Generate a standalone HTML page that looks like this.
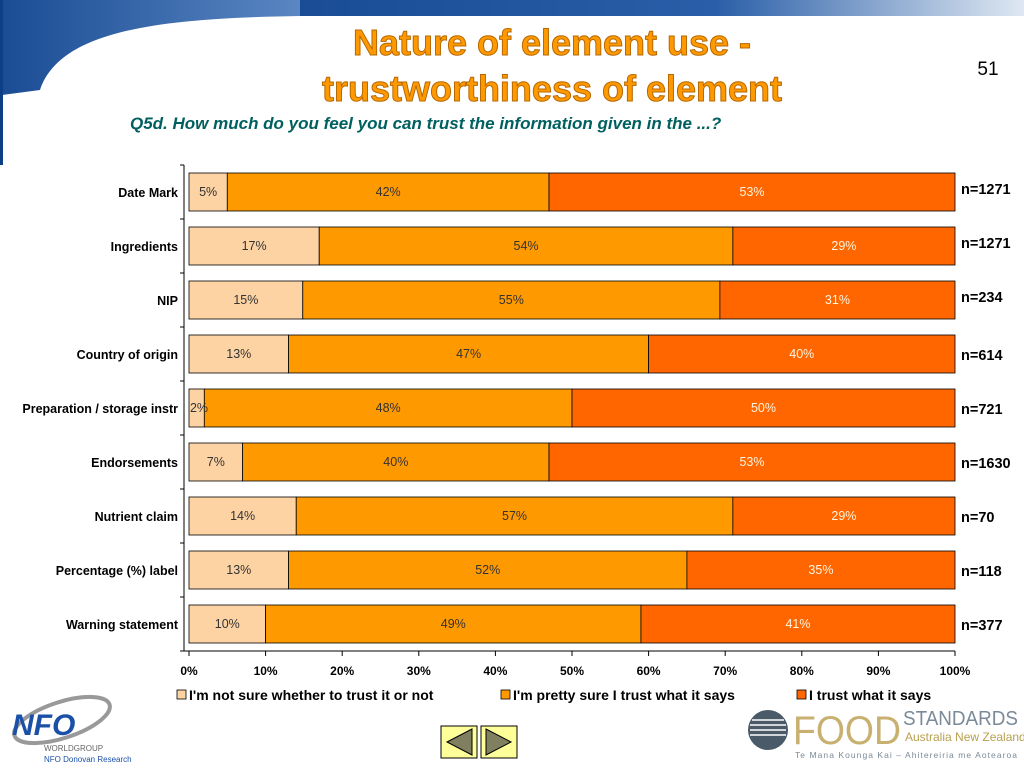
<!DOCTYPE html>
<html><head><meta charset="utf-8"><style>
body{margin:0;width:1024px;height:768px;background:#fff;overflow:hidden;font-family:"Liberation Sans",sans-serif;position:relative}
.abs{position:absolute}
</style></head><body>
<svg class="abs" style="left:0;top:0" width="1024" height="768">
<defs>
<linearGradient id="topg" x1="0" x2="1" y1="0" y2="0"><stop offset="0" stop-color="#0c3f86"/><stop offset="0.7" stop-color="#2a5fa8"/><stop offset="1" stop-color="#dfe8f2"/></linearGradient>
<linearGradient id="swg" x1="0" x2="1"><stop offset="0" stop-color="#1a4c94"/><stop offset="1" stop-color="#5a86c2"/></linearGradient>
</defs>
<g>
<rect x="0" y="0" width="1024" height="16" fill="url(#topg)"/>
<path d="M0,0 L300,0 L300,16 C160,18 60,30 40,90 L2,95 L0,160 Z" fill="url(#swg)"/>
<rect x="0" y="0" width="3" height="165" fill="#0c3f86"/>
</g>
<text x="552" y="55" text-anchor="middle" font-size="36" font-weight="bold" fill="#ff9900" stroke="#b86800" stroke-width="1">Nature of element use -</text>
<text x="552" y="101" text-anchor="middle" font-size="36" font-weight="bold" fill="#ff9900" stroke="#b86800" stroke-width="1">trustworthiness of element</text>
<text x="988" y="75" text-anchor="middle" font-size="19" fill="#000">51</text>
<text x="130" y="129" font-size="17" font-weight="bold" font-style="italic" fill="#006060">Q5d. How much do you feel you can trust the information given in the ...?</text>
<g id="chart"></g>
<g>
<ellipse cx="62" cy="720" rx="50" ry="18" fill="none" stroke="#999" stroke-width="4" transform="rotate(-18 62 720)"/>
<text x="12" y="735" font-size="30" font-weight="bold" font-style="italic" fill="#1a50a8">NFO</text>
<text x="44" y="751" font-size="8" fill="#666">WORLDGROUP</text>
<text x="44" y="762" font-size="8" fill="#1a50a8">NFO Donovan Research</text>
</g>
<g>
<rect x="441" y="726" width="36" height="32" fill="#ffff99" stroke="#000"/>
<polygon points="447,742 472,729 472,755" fill="#808060" stroke="#000"/>
</g>
<g>
<rect x="481" y="726" width="36" height="32" fill="#ffff99" stroke="#000"/>
<polygon points="511,742 486,729 486,755" fill="#808060" stroke="#000"/>
</g>
<g>
<circle cx="768" cy="730" r="20" fill="#4a5a68"/>
<g stroke="#fff" stroke-width="1.5"><line x1="752" y1="720" x2="784" y2="720"/><line x1="750" y1="725" x2="786" y2="725"/><line x1="750" y1="730" x2="786" y2="730"/><line x1="750" y1="735" x2="786" y2="735"/></g>
<text x="793" y="744" font-size="40" fill="#c8b070" textLength="108" lengthAdjust="spacingAndGlyphs">FOOD</text>
<text x="903" y="725" font-size="20" fill="#7a8a98" textLength="115" lengthAdjust="spacingAndGlyphs">STANDARDS</text>
<text x="905" y="741" font-size="12" fill="#b8a050">Australia New Zealand</text>
<text x="795" y="758" font-size="8.5" fill="#7a8a98" textLength="222">Te Mana Kounga Kai – Ahitereiria me Aotearoa</text>
</g>
</svg>
<script>
const categories=["Date Mark","Ingredients","NIP","Country of origin","Preparation / storage instr","Endorsements","Nutrient claim","Percentage (%) label","Warning statement"];
const notSure=[5,17,15,13,2,7,14,13,10];
const prettySure=[42,54,55,47,48,40,57,52,49];
const trust=[53,29,31,40,50,53,29,35,41];
const nLabels=["n=1271","n=1271","n=234","n=614","n=721","n=1630","n=70","n=118","n=377"];
const ticks=[0,10,20,30,40,50,60,70,80,90,100];
const seriesNames=["I'm not sure whether to trust it or not","I'm pretty sure I trust what it says","I trust what it says"];
const colors=["#fdd3a3","#ff9900","#ff6600"];
const NS="http://www.w3.org/2000/svg";
const g=document.getElementById('chart');
const X0=189,X1=955,Y0=165,ROW=54,BH=38;
const x=v=>X0+(X1-X0)*v/100;
const yc=i=>Y0+27+i*ROW;
function el(t,a,txt){const e=document.createElementNS(NS,t);for(const k in a)e.setAttribute(k,a[k]);if(txt!==undefined)e.textContent=txt;g.appendChild(e);return e;}
let ax=el('line',{x1:184,y1:Y0,x2:184,y2:Y0+ROW*9,stroke:'#000'});


for(let i=0;i<=9;i++){let t=el('line',{x1:180,y1:Y0+i*ROW,x2:184,y2:Y0+i*ROW,stroke:'#000'});

}
let xa=el('line',{x1:184,y1:651,x2:X1,y2:651,stroke:'#000'});


ticks.forEach(t=>{let l=el('line',{x1:x(t),y1:651,x2:x(t),y2:656,stroke:'#000'});


let tx=el('text',{x:x(t),y:675,'text-anchor':'middle','font-size':12,'font-weight':'bold'},t+'%');

});
const series=[notSure,prettySure,trust];
categories.forEach((c,i)=>{
 let cl=el('text',{x:178,y:yc(i)+5,'text-anchor':'end','font-size':12.5,'font-weight':'bold'},c);
 
 
 const total=series.reduce((s,a)=>s+a[i],0);
 let acc=0;const labs=[];
 series.forEach((s,k)=>{
  const v=s[i]*100/total;
  let r=el('rect',{x:x(acc),y:yc(i)-BH/2,width:x(acc+v)-x(acc),height:BH,fill:colors[k],stroke:'#000','stroke-width':0.8});
  
  
  labs.push([k,s[i],acc,v]);
  acc+=v;
 });
 labs.forEach(([k,raw,a,v])=>{
  let lx=raw<4?x(a)+10:x(a+v/2);
  let lt=el('text',{x:lx,y:yc(i)+4,'text-anchor':'middle','font-size':12.5,fill:k==2?'#fff5e0':'#333'},raw+'%');
  
  
 });
 let nl=el('text',{x:961,y:yc(i)+2+(i>2?4:0),'font-size':14.5,'font-weight':'bold'},nLabels[i]);
 
 
});
const lx=[177,501,797];
seriesNames.forEach((n,k)=>{
 let s=el('rect',{x:lx[k],y:690,width:9,height:9,fill:colors[k],stroke:'#000','stroke-width':0.8});
 
 
 let t=el('text',{x:lx[k]+12,y:700,'font-size':14,'font-weight':'bold'},n);
 
 
});
</script>
</body></html>
